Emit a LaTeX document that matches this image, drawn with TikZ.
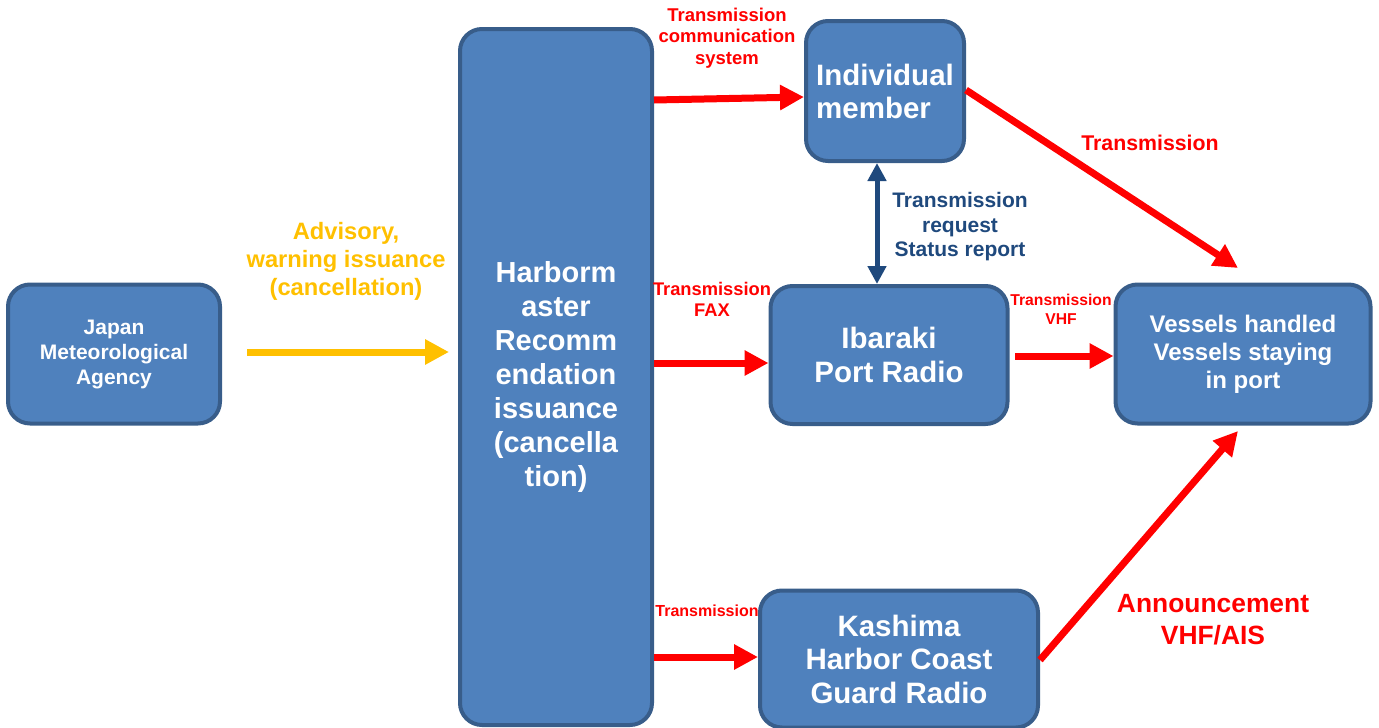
\documentclass[tikz,border=0pt]{standalone}
\usepackage{fontspec}
\setmainfont{Liberation Sans}
\usetikzlibrary{arrows.meta}
\definecolor{boxfill}{HTML}{4F81BD}
\definecolor{boxline}{HTML}{385D8A}
\definecolor{myred}{HTML}{FF0000}
\definecolor{myyellow}{HTML}{FFC000}
\definecolor{navy}{HTML}{1F497D}
\tikzset{
  box/.style={draw=boxline, line width=4pt, fill=boxfill, rounded corners=22pt, text=white, align=center, inner sep=0pt},
  redarrow/.style={draw=myred, line width=7pt, -{Triangle[length=24pt,width=24pt]}},
  lbl/.style={align=center, inner sep=0pt},
  fsz/.style 2 args={font=\bfseries\fontsize{#1}{#2}\selectfont},
}
\begin{document}
\begin{tikzpicture}[x=1pt,y=-1pt]
\useasboundingbox (0,0) rectangle (1379,728);
% boxes
\node[box, fsz={21}{25}, minimum width=212pt, minimum height=139pt] (jma) at (114,354) {Japan\\Meteorological\\Agency};
\node[box, fsz={29}{34}, minimum width=192pt, minimum height=696pt] (hm) at (556,377) {Harborm\\aster\\Recomm\\endation\\issuance\\(cancella\\tion)};
\node[box, fsz={29.5}{33}, align=left, minimum width=158pt, minimum height=140pt] (ind) at (885,91) {Individual\\member};
\node[box, fsz={29.5}{34}, minimum width=237pt, minimum height=138pt] (iba) at (889,355) {Ibaraki\\Port Radio};
\node[box, fsz={24}{28}, minimum width=255pt, minimum height=139pt] (ves) at (1243,354) {Vessels handled\\Vessels staying\\in port};
\node[box, fsz={29.5}{33.5}, minimum width=278pt, minimum height=137pt] (kas) at (899,659) {Kashima\\Harbor Coast\\Guard Radio};
% coordinates
\coordinate (ya) at (247,352);
\coordinate (yb) at (449,352);
\coordinate (v1) at (1238,268);
\coordinate (v2) at (1238,431);
% arrows
\draw[draw=myyellow, line width=7pt, -{Triangle[length=24pt,width=24pt]}] (ya) -- (yb);
\draw[redarrow] (hm.east |- 0,100) -- (ind.west |- 0,97);
\draw[redarrow] (hm.east |- 0,363) -- (iba.west |- 0,363);
\draw[redarrow] (1015,356) -- (ves.west |- 0,356);
\draw[redarrow] (hm.east |- 0,657) -- (kas.west |- 0,657);
\draw[redarrow] (ind.east |- 0,90) -- (v1);
\draw[redarrow] (kas.east |- 0,660) -- (v2);
\draw[draw=navy, line width=5pt, {Triangle[length=18pt,width=18pt]}-{Triangle[length=18pt,width=18pt]}] (ind.south -| 877,0) -- (iba.north -| 877,0);
% labels
\node[lbl, fsz={23.7}{28}, text=myyellow] (l1) at (346,261) {Advisory,\\warning issuance\\(cancellation)};
\node[lbl, fsz={18.5}{21.5}, text=myred] (l2) at (727,38) {Transmission\\communication\\system};
\node[lbl, fsz={21.3}{24}, text=myred] (l3) at (1150,143) {Transmission};
\node[lbl, fsz={21}{24.5}, text=navy] (l4) at (960,227) {Transmission\\request\\Status report};
\node[lbl, fsz={18.3}{21}, text=myred] (l5) at (712,299) {Transmission\\FAX};
\node[lbl, fsz={15.7}{19}, text=myred] (l6) at (1061,309) {Transmission\\VHF};
\node[lbl, fsz={16}{18}, text=myred] (l7) at (707,611) {Transmission};
\node[lbl, fsz={26.4}{32}, text=myred] (l8) at (1213,620) {Announcement\\VHF/AIS};
\end{tikzpicture}
\end{document}
